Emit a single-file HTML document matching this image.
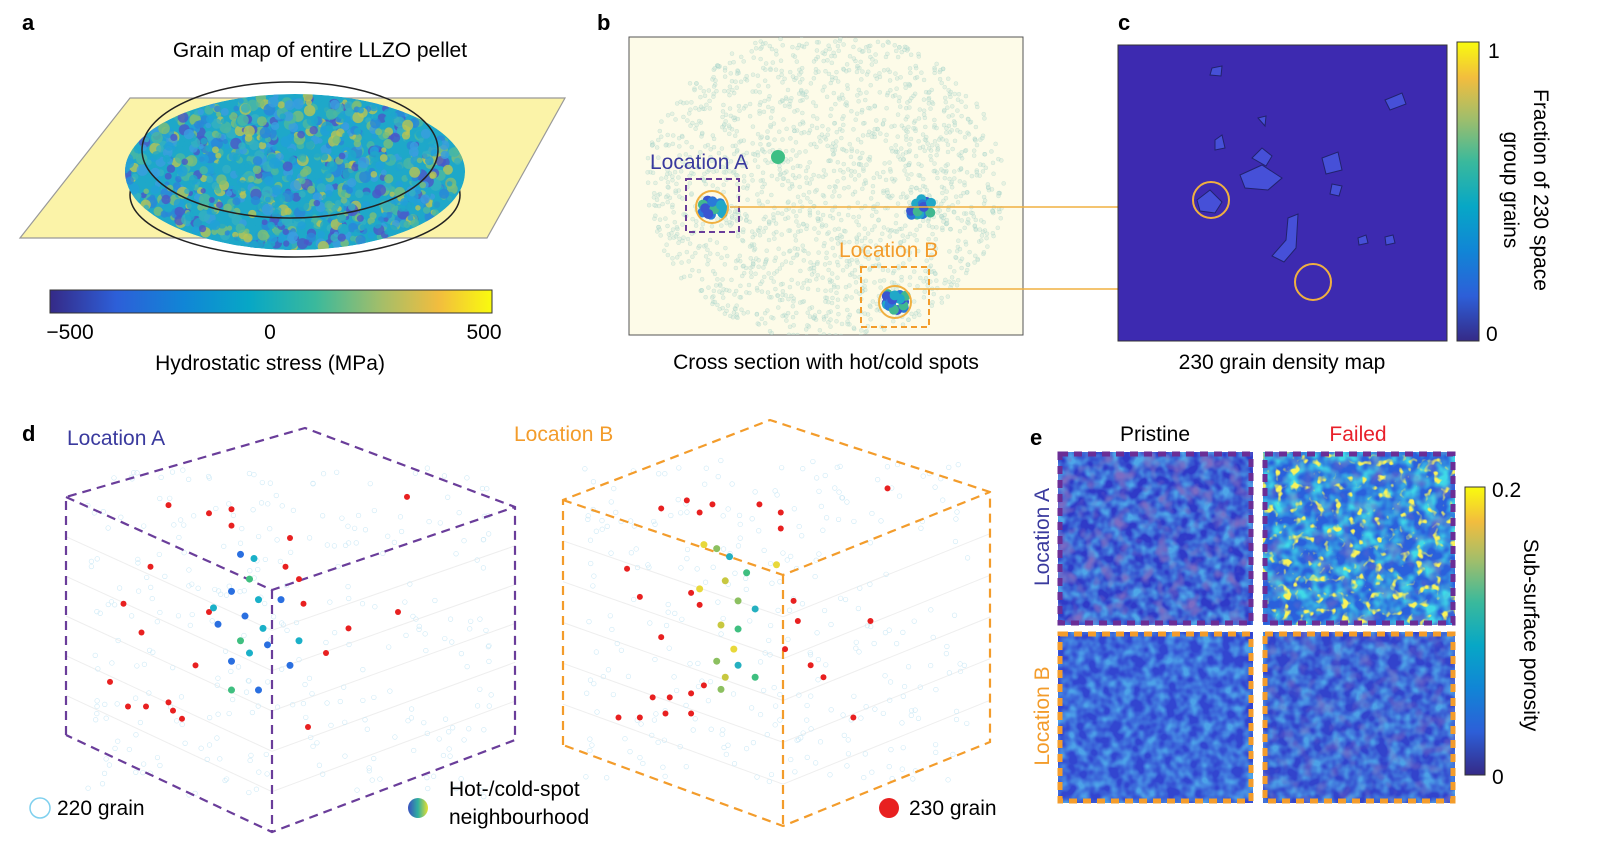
<!DOCTYPE html>
<html><head><meta charset="utf-8">
<style>
html,body{margin:0;padding:0;background:#fff;}
svg{display:block;font-family:"Liberation Sans",Arial,sans-serif;}
</style></head>
<body>
<svg id="fig" width="1597" height="853" viewBox="0 0 1597 853" xmlns="http://www.w3.org/2000/svg">
<defs>
<linearGradient id="parulaH" x1="0" x2="1" y1="0" y2="0">
<stop offset="0" stop-color="#352a87"/><stop offset="0.15" stop-color="#2d5fd8"/><stop offset="0.3" stop-color="#1185d6"/><stop offset="0.45" stop-color="#07a7c6"/><stop offset="0.6" stop-color="#3ab99c"/><stop offset="0.75" stop-color="#a4be69"/><stop offset="0.88" stop-color="#f2bd3e"/><stop offset="1" stop-color="#f9fb0e"/>
</linearGradient>
<linearGradient id="parulaV" x1="0" x2="0" y1="1" y2="0">
<stop offset="0" stop-color="#352a87"/><stop offset="0.15" stop-color="#2d5fd8"/><stop offset="0.3" stop-color="#1185d6"/><stop offset="0.45" stop-color="#07a7c6"/><stop offset="0.6" stop-color="#3ab99c"/><stop offset="0.75" stop-color="#a4be69"/><stop offset="0.88" stop-color="#f2bd3e"/><stop offset="1" stop-color="#f9fb0e"/>
</linearGradient>
<linearGradient id="legGrad" x1="0" x2="1"><stop offset="0" stop-color="#3a4fc0"/><stop offset="0.5" stop-color="#30b0a0"/><stop offset="1" stop-color="#e8e030"/></linearGradient>
<filter id="noiseLow" x="0" y="0" width="100%" height="100%">
<feTurbulence type="fractalNoise" baseFrequency="0.09" numOctaves="2" seed="3"/>
<feColorMatrix type="matrix" values="0 0 0 0 0.1  0 0 0 0 0.6  0 0 0 0 0.9  0 0 0 -2.2 1.5"/>
</filter>
<filter id="noiseDark" x="0" y="0" width="100%" height="100%">
<feTurbulence type="fractalNoise" baseFrequency="0.07" numOctaves="2" seed="5"/>
<feColorMatrix type="matrix" values="0 0 0 0 0.2  0 0 0 0 0.15  0 0 0 0 0.55  0 0 0 3 -1.5"/>
</filter>
<filter id="noiseHigh" x="0" y="0" width="100%" height="100%">
<feTurbulence type="fractalNoise" baseFrequency="0.12" numOctaves="2" seed="7"/>
<feColorMatrix type="matrix" values="0 0 0 0 0.95  0 0 0 0 0.9  0 0 0 0 0.1  0 0 0 -6 2.45"/>
</filter>
<filter id="noiseMid" x="0" y="0" width="100%" height="100%">
<feTurbulence type="fractalNoise" baseFrequency="0.08" numOctaves="2" seed="11"/>
<feColorMatrix type="matrix" values="0 0 0 0 0.05  0 0 0 0 0.7  0 0 0 0 0.8  0 0 0 -2.5 1.6"/>
</filter>
<clipPath id="diskClip"><ellipse cx="295" cy="172" rx="170" ry="78"/></clipPath>
<clipPath id="bClip"><rect x="629" y="37" width="394" height="298"/></clipPath>
</defs>

<!-- Panel a -->
<text x="22" y="30" font-size="22" font-weight="bold">a</text>
<text x="320" y="57" font-size="21" text-anchor="middle">Grain map of entire LLZO pellet</text>
<polygon points="20,238 130,98 565,98 487,238" fill="#fbf3a8" stroke="#999" stroke-width="1.2"/>
<ellipse cx="295" cy="195" rx="165" ry="62" fill="none" stroke="#222" stroke-width="1.5"/>
<g id="disk" clip-path="url(#diskClip)">
<ellipse cx="295" cy="172" rx="170" ry="78" fill="#1ea8c9"/>
</g>
<ellipse cx="290" cy="150" rx="148" ry="68" fill="none" stroke="#222" stroke-width="1.5"/>
<rect x="50" y="290" width="442" height="23" fill="url(#parulaH)" stroke="#333" stroke-width="1"/>
<g font-size="21" text-anchor="middle">
<text x="70" y="339">−500</text>
<text x="270" y="339">0</text>
<text x="484" y="339">500</text>
<text x="270" y="370">Hydrostatic stress (MPa)</text>
</g>

<!-- Panel b -->
<text x="597" y="30" font-size="22" font-weight="bold">b</text>
<rect x="629" y="37" width="394" height="298" fill="#fdfbe8" stroke="#555" stroke-width="1"/>
<g id="bdots" clip-path="url(#bClip)"></g>
<circle cx="778" cy="157" r="7" fill="#3dbf85"/>
<g id="clusters"></g>
<text x="650" y="169" font-size="21" fill="#3a3a9e">Location A</text>
<rect x="686" y="179" width="53" height="53" fill="none" stroke="#6a3d9a" stroke-width="2" stroke-dasharray="6,4"/>
<text x="839" y="257" font-size="21" fill="#f39c2b">Location B</text>
<rect x="861" y="267" width="68" height="60" fill="none" stroke="#f39c2b" stroke-width="2" stroke-dasharray="6,4"/>
<line x1="730" y1="207" x2="1195" y2="207" stroke="#f0b040" stroke-width="1.5"/>
<line x1="913" y1="289" x2="1297" y2="289" stroke="#f0b040" stroke-width="1.5"/>
<text x="826" y="369" font-size="21" text-anchor="middle">Cross section with hot/cold spots</text>

<!-- Panel c -->
<text x="1118" y="30" font-size="22" font-weight="bold">c</text>
<rect x="1118" y="45" width="329" height="296" fill="#3d2ab0" stroke="#333" stroke-width="1"/>
<g id="contours" fill="#4650d8" stroke="#22226e" stroke-width="1"></g>
<circle cx="1211" cy="200" r="18" fill="none" stroke="#f0b040" stroke-width="2"/>
<circle cx="1313" cy="282" r="18" fill="none" stroke="#f0b040" stroke-width="2"/>
<rect x="1457" y="42" width="22" height="299" fill="url(#parulaV)" stroke="#333" stroke-width="1"/>
<text x="1488" y="58" font-size="21">1</text>
<text x="1486" y="341" font-size="21">0</text>
<text transform="translate(1534,190) rotate(90)" font-size="21" text-anchor="middle">Fraction of 230 space</text>
<text transform="translate(1504,190) rotate(90)" font-size="21" text-anchor="middle">group grains</text>
<text x="1282" y="369" font-size="21" text-anchor="middle">230 grain density map</text>

<!-- Panel d -->
<text x="22" y="441" font-size="22" font-weight="bold">d</text>
<text x="67" y="445" font-size="21" fill="#3a3a9e">Location A</text>
<text x="514" y="441" font-size="21" fill="#f39c2b">Location B</text>
<g id="cubeA"></g>
<g id="cubeB"></g>
<circle cx="40" cy="808" r="10" fill="none" stroke="#7fd0ee" stroke-width="1.5"/>
<text x="57" y="815" font-size="21">220 grain</text>
<circle cx="418" cy="808" r="10" fill="url(#legGrad)"/>
<text x="449" y="796" font-size="21">Hot-/cold-spot</text>
<text x="449" y="824" font-size="21">neighbourhood</text>
<circle cx="889" cy="808" r="10" fill="#e82020"/>
<text x="909" y="815" font-size="21">230 grain</text>

<!-- Panel e -->
<text x="1030" y="445" font-size="22" font-weight="bold">e</text>
<text x="1155" y="441" font-size="21" text-anchor="middle">Pristine</text>
<text x="1358" y="441" font-size="21" text-anchor="middle" fill="#e8202a">Failed</text>
<text transform="translate(1049,537) rotate(-90)" font-size="21" text-anchor="middle" fill="#3a3a9e">Location A</text>
<text transform="translate(1049,716) rotate(-90)" font-size="21" text-anchor="middle" fill="#f39c2b">Location B</text>
<g>
<rect x="1058" y="452" width="195" height="173" fill="#2f3ac8"/>
<rect x="1058" y="452" width="195" height="173" filter="url(#noiseLow)" opacity="0.75"/>
<rect x="1058" y="452" width="195" height="173" filter="url(#noiseDark)"/>
<rect x="1060" y="454" width="191" height="169" fill="none" stroke="#6a2d96" stroke-width="5" stroke-dasharray="8,6"/>
</g>
<g>
<rect x="1263" y="452" width="192" height="173" fill="#2a60dc"/>
<rect x="1263" y="452" width="192" height="173" filter="url(#noiseMid)"/>
<rect x="1263" y="452" width="192" height="173" filter="url(#noiseDark)" opacity="0.6"/>
<rect x="1263" y="452" width="192" height="173" filter="url(#noiseHigh)"/>
<rect x="1265" y="454" width="188" height="169" fill="none" stroke="#6a2d96" stroke-width="5" stroke-dasharray="8,6"/>
</g>
<g>
<rect x="1058" y="632" width="195" height="171" fill="#3245d0"/>
<rect x="1058" y="632" width="195" height="171" filter="url(#noiseLow)" opacity="0.7"/>
<rect x="1060" y="634" width="191" height="167" fill="none" stroke="#f39c2b" stroke-width="5" stroke-dasharray="8,6"/>
</g>
<g>
<rect x="1263" y="632" width="192" height="171" fill="#3243cc"/>
<rect x="1263" y="632" width="192" height="171" filter="url(#noiseLow)" opacity="0.7"/>
<rect x="1263" y="632" width="192" height="171" filter="url(#noiseDark)" opacity="0.6"/>
<rect x="1265" y="634" width="188" height="167" fill="none" stroke="#f39c2b" stroke-width="5" stroke-dasharray="8,6"/>
</g>
<rect x="1465" y="487" width="20" height="288" fill="url(#parulaV)" stroke="#333" stroke-width="1"/>
<text x="1492" y="497" font-size="21">0.2</text>
<text x="1492" y="784" font-size="21">0</text>
<text transform="translate(1524,635) rotate(90)" font-size="21" text-anchor="middle">Sub-surface porosity</text>
</svg>
<script>
// ---- data arrays (positions in % of each cube's extent) ----
const redAx = [23,32,37,37,76,19,13,10,14,18,23,24,26,29,32,50,49,52,53,63,58,54,74,17];
const redAy = [19,21,24,20,17,34,43,62,68,68,67,69,71,58,45,27,34,37,43,49,55,73,45,50];
const hotAx = [39,42,41,37,43,40,34,44,39,45,41,37,50,52,37,43,33,48];
const hotAy = [31,32,37,40,42,46,48,49,52,53,55,57,58,52,64,64,44,42];
const redBx = [23,29,32,35,46,51,51,76,15,18,30,32,23,13,18,21,24,25,30,30,33,54,55,58,61,72,68,52];
const redBy = [22,20,23,21,21,23,27,17,37,44,43,46,54,74,74,69,73,69,68,73,66,45,50,61,64,50,74,57];
const hotBx = [33,36,39,38,43,32,41,45,37,41,40,36,41,38,45,50,37];
const hotBy = [31,32,34,40,38,42,45,47,51,52,57,60,61,64,64,36,67];
const hotAcolors = ["#2a6fe0","#1ab0c8","#3fbf80","#2a6fe0","#1ab0c8","#2a6fe0"];
const hotBcolors = ["#e8d83a","#8cc060","#25b0c0","#c8c840","#3fbf80"];
const diskColors = ["#1ea8c9","#1ea8c9","#3a9ee0","#4bb8a0","#7cbe78","#2a86d8","#34b0c0","#b8c454","#4a58c8","#20a0d8"];

const NS="http://www.w3.org/2000/svg";
function mk(tag,attrs,parent){const e=document.createElementNS(NS,tag);for(const k in attrs)e.setAttribute(k,attrs[k]);parent.appendChild(e);return e;}
let seed=12345;function rnd(){seed=(seed*1103515245+12345)%2147483648;return seed/2147483648;}

// panel a disk texture
const disk=document.getElementById('disk');
for(let i=0;i<1100;i++){const a=rnd()*Math.PI*2,r=Math.sqrt(rnd());
 mk('circle',{cx:295+Math.cos(a)*r*170,cy:172+Math.sin(a)*r*76,r:2.5+rnd()*3.5,fill:diskColors[Math.floor(rnd()*diskColors.length)],opacity:0.8},disk);}

// panel b background grains
const bd=document.getElementById('bdots');
for(let i=0;i<1800;i++){const a=rnd()*Math.PI*2,r=Math.sqrt(rnd());
 mk('circle',{cx:825+Math.cos(a)*r*180,cy:185+Math.sin(a)*r*155,r:2,fill:"#cfe6d8",stroke:"#8cc8c0","stroke-width":0.5,opacity:0.45},bd);}
const cl=document.getElementById('clusters');
[[712,207],[922,207],[895,302]].forEach(function(p,k){
 for(let i=0;i<22;i++){mk('circle',{cx:p[0]+(rnd()-0.5)*22,cy:p[1]+(rnd()-0.5)*16,r:5,fill:["#3a55d0","#20a8c8","#40b890","#2a7ad8"][i%4]},cl);}
});
mk('circle',{cx:712,cy:207,r:16,fill:"none",stroke:"#f0b040","stroke-width":2},cl);
mk('circle',{cx:895,cy:302,r:16,fill:"none",stroke:"#f0b040","stroke-width":2},cl);

// panel c contours
const cont=document.getElementById('contours');
["1197,200 1210,190 1222,202 1215,213 1200,211","1240,175 1262,165 1282,178 1268,190 1245,188","1252,158 1262,148 1272,156 1266,166","1322,158 1338,152 1342,170 1326,174","1385,100 1402,93 1406,104 1390,110","1288,218 1298,214 1296,248 1284,262 1272,256 1286,240","1215,140 1222,135 1225,148 1215,150","1212,68 1222,66 1221,76 1210,75","1332,184 1342,186 1339,196 1330,194","1358,238 1366,235 1368,243 1359,245","1385,237 1393,235 1395,243 1386,245","1258,118 1266,116 1265,126"].forEach(function(p){mk('polygon',{points:p},cont);});

// panel d cubes
function cube(id,v,color,rx,ry,hx,hy,hcol,x0,y0,w,h){
 const g=document.getElementById(id);
 for(let i=1;i<6;i++){const t=i/6;
  mk('line',{x1:v.TL[0],y1:v.TL[1]+(v.LB[1]-v.TL[1])*t,x2:v.I[0],y2:v.I[1]+(v.B[1]-v.I[1])*t,stroke:"#eeeeee","stroke-width":1},g);
  mk('line',{x1:v.I[0],y1:v.I[1]+(v.B[1]-v.I[1])*t,x2:v.R[0],y2:v.R[1]+(v.RB[1]-v.R[1])*t,stroke:"#eeeeee","stroke-width":1},g);
 }
 for(let i=0;i<300;i++){mk('circle',{cx:x0+w*(0.05+0.9*rnd()),cy:y0+h*(0.1+0.8*rnd()),r:2.3,fill:"none",stroke:"#cce9f6","stroke-width":0.6},g);}
 const dash={fill:"none",stroke:color,"stroke-width":2.2,"stroke-dasharray":"9,6"};
 mk('polyline',Object.assign({points:[v.LB,v.TL,v.T,v.R,v.RB,v.B,v.LB].map(p=>p.join(',')).join(' ')},dash),g);
 mk('polyline',Object.assign({points:[v.TL,v.I,v.R].map(p=>p.join(',')).join(' ')},dash),g);
 mk('line',Object.assign({x1:v.I[0],y1:v.I[1],x2:v.B[0],y2:v.B[1]},dash),g);
 const sx=p=>x0+p/100*w, sy=p=>y0+p/100*h;
 for(let i=0;i<rx.length;i++){const c=mk('circle',{cx:sx(rx[i]),cy:sy(ry[i]),r:3,fill:"#e82020"},g);
  
  }
 for(let i=0;i<hx.length;i++){const c=mk('circle',{cx:sx(hx[i]),cy:sy(hy[i]),r:3.5,fill:hcol[i%hcol.length]},g);
  
  }
}
cube('cubeA',{TL:[66,497],T:[305,428],R:[515,507],RB:[515,740],B:[272,832],LB:[66,735],I:[272,590]},"#6a3d9a",redAx,redAy,hotAx,hotAy,hotAcolors,65,427,450,411);
cube('cubeB',{TL:[563,500],T:[770,420],R:[990,492],RB:[990,742],B:[783,826],LB:[563,745],I:[783,575]},"#f39c2b",redBx,redBy,hotBx,hotBy,hotBcolors,563,420,427,402);
</script>
</body></html>
